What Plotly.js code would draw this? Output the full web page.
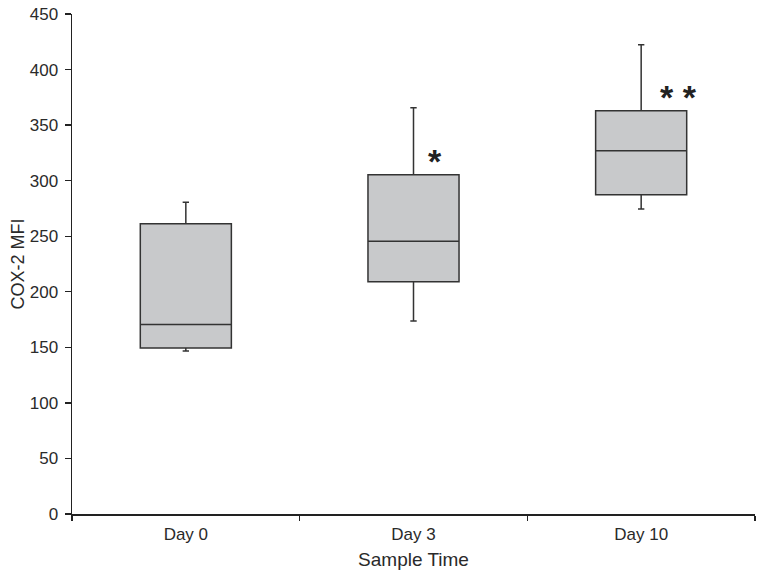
<!DOCTYPE html>
<html>
<head>
<meta charset="utf-8">
<script src="https://cdn.plot.ly/plotly-3.0.1.min.js"></script>
<style>html,body{margin:0;padding:0;background:#fff;}#chart{width:764px;height:577px;}</style>
</head>
<body>
<div id="chart"></div>
<script>
const categories = ["Day 0", "Day 3", "Day 10"];
const lowerWhisker = [146.6, 173.6, 274.4];
const q1Values = [149.5, 209.0, 287.3];
const medianValues = [170.6, 245.4, 327.0];
const q3Values = [261.2, 305.4, 363.0];
const upperWhisker = [280.6, 365.7, 422.4];
const markLabels = ["", "*", "* *"];
const markValues = [null, 318, 375];
const yTicks = [0, 50, 100, 150, 200, 250, 300, 350, 400, 450];

const trace = {
  type: "box",
  x: categories,
  q1: q1Values,
  median: medianValues,
  q3: q3Values,
  lowerfence: lowerWhisker,
  upperfence: upperWhisker,
  boxpoints: false,
  width: 0.4,
  whiskerwidth: 0.07,
  fillcolor: "#c8c9cb",
  line: {color: "#333333", width: 1.5},
  hoverinfo: "skip",
  showlegend: false
};

const shifts = [0, 21, 37];
const annotations = [];
categories.forEach((c, i) => {
  if (markLabels[i]) {
    annotations.push({
      x: c, y: markValues[i], xref: "x", yref: "y",
      text: "<b>" + markLabels[i] + "</b>",
      showarrow: false, xshift: shifts[i],
      font: {family: "Liberation Sans, Arial, sans-serif", size: 34, color: "#222"}
    });
  }
});

const layout = {
  width: 764, height: 577,
  margin: {l: 72, r: 9, t: 14, b: 63},
  paper_bgcolor: "#fff", plot_bgcolor: "#fff",
  font: {family: "Liberation Sans, Arial, sans-serif", color: "#2a2a2a", size: 17},
  xaxis: {
    type: "category",
    categoryarray: categories,
    range: [-0.5, 2.5],
    showline: true, linecolor: "#222", linewidth: 1.5,
    ticks: "outside", tickson: "boundaries", ticklen: 5, tickcolor: "#222", tickwidth: 1.3,
    ticklabelstandoff: 4,
    showgrid: false, zeroline: false,
    tickfont: {size: 17},
    title: {text: "Sample Time", font: {size: 19}, standoff: 10}
  },
  yaxis: {
    range: [0, 450],
    tickvals: yTicks,
    showline: true, linecolor: "#222", linewidth: 1.5,
    ticks: "outside", ticklen: 6, tickcolor: "#222", tickwidth: 1.3,
    ticklabelstandoff: 3,
    showgrid: false, zeroline: false,
    tickfont: {size: 17},
    title: {text: "COX-2 MFI", font: {size: 18}, standoff: 0}
  },
  annotations: annotations
};

Plotly.newPlot("chart", [trace], layout, {staticPlot: true});
</script>
</body>
</html>
